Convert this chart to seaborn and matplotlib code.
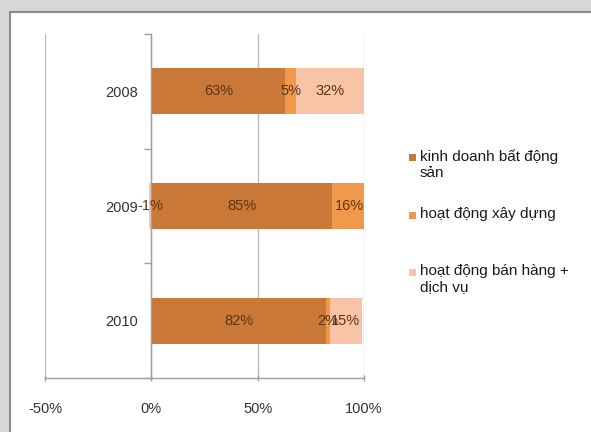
import matplotlib
matplotlib.use("Agg")
import matplotlib.pyplot as plt
from matplotlib.patches import Rectangle
from matplotlib.ticker import FuncFormatter
import seaborn as sns
import pandas as pd
import numpy as np

# ---- data ----
years = ["2008", "2009", "2010"]
series_names = ["kinh doanh bất động\nsản", "hoạt động xây dựng", "hoạt động bán hàng +\ndịch vụ"]
kinh_doanh = [63, 85, 82]
xay_dung = [5, 16, 2]
ban_hang = [32, -1, 15]
x_ticks = [-50, 0, 50, 100]

colors = ["#C97838", "#F0994A", "#F8C3A6"]
label_color = "#5a3418"
FONT = "Liberation Sans"

sns.set_theme(style="white")
plt.rcParams["font.family"] = [FONT, "DejaVu Sans"]

fig = plt.figure(figsize=(5.91, 4.32), dpi=100)
fig.patch.set_facecolor("#d7d7d7")
frame = Rectangle((10 / 591, -0.05), 1.1, 1 - 12 / 432 + 0.05,
                  transform=fig.transFigure, facecolor="white",
                  edgecolor="#8a8a8a", linewidth=1.5, zorder=-10)
fig.patches.append(frame)

ax = fig.add_axes([45 / 591, 1 - 378 / 432, (364 - 45) / 591, (378 - 34) / 432])
ax.set_facecolor("none")
ax.set_zorder(1)

df = pd.DataFrame({"year": years, "s1": kinh_doanh, "s2": xay_dung, "s3": ban_hang})
pos3 = df["s3"].clip(lower=0)
neg3 = df["s3"].clip(upper=0)
cum1 = df["s1"]
cum2 = df["s1"] + df["s2"]
cum3 = cum2 + pos3

bw = 0.4
kw = dict(orient="h", width=bw, saturation=1, ax=ax, zorder=3, linewidth=0, edgecolor="none")
sns.barplot(x=cum3 / 100, y=df["year"], color=colors[2], **kw)
sns.barplot(x=cum2 / 100, y=df["year"], color=colors[1], **kw)
sns.barplot(x=cum1 / 100, y=df["year"], color=colors[0], **kw)
sns.barplot(x=neg3 / 100, y=df["year"], color=colors[2], **kw)

# data labels at the centre of each segment
for i in range(len(years)):
    segs = [(0, df["s1"][i]), (df["s1"][i], df["s2"][i])]
    if df["s3"][i] >= 0:
        segs.append((cum2[i], df["s3"][i]))
    else:
        segs.append((0, df["s3"][i]))
    for start, val in segs:
        ax.text((start + val / 2) / 100, i, f"{val}%", ha="center", va="center",
                fontsize=10.5, color=label_color, zorder=5)

ax.set_xlim(-0.5, 1.0)
ax.set_ylim(2.5, -0.5)
ax.set_xticks([t / 100 for t in x_ticks])
ax.xaxis.set_major_formatter(FuncFormatter(lambda v, p: f"{int(round(v * 100))}%"))
ax.grid(axis="x", color="#bdbdbd", linewidth=1.0, zorder=0)
ax.set_axisbelow(True)

for s in ["top", "right"]:
    ax.spines[s].set_visible(False)
ax.spines["left"].set_position(("data", 0))
ax.spines["left"].set_color("#a0a0a0")
ax.spines["bottom"].set_color("#a0a0a0")
ax.spines["left"].set_linewidth(1.0)
ax.spines["bottom"].set_linewidth(1.0)
ax.spines["left"].set_zorder(4)

# category axis: boundary ticks + centred labels
ax.set_yticks([-0.5, 0.5, 1.5, 2.5])
ax.set_yticklabels([])
ax.set_yticks([0, 1, 2], minor=True)
ax.set_yticklabels(years, minor=True)
ax.tick_params(axis="y", which="major", direction="out", length=5, width=1,
               color="#a0a0a0", left=True)
ax.tick_params(axis="y", which="minor", length=0, pad=9.5, labelsize=10.5, labelcolor="#333333")
ax.tick_params(axis="x", direction="inout", length=5, width=1, color="#a0a0a0", bottom=True,
               pad=15, labelsize=10.5, labelcolor="#333333")
ax.set_xlabel("")
ax.set_ylabel("")

# legend (manual, to match Excel layout)
leg_y = [157, 215, 272]
for name, c, y in zip(series_names, colors, leg_y):
    fig.patches.append(Rectangle((409 / 591, 1 - (y + 4) / 432), 7 / 591, 7 / 432,
                                 transform=fig.transFigure, facecolor=c, edgecolor="none"))
    fig.text(420 / 591, 1 - (y - 8) / 432, name, ha="left", va="top", fontsize=11,
             color="#1a1a1a", linespacing=1.2)

fig.savefig("out.png", dpi=100, facecolor=fig.get_facecolor())
